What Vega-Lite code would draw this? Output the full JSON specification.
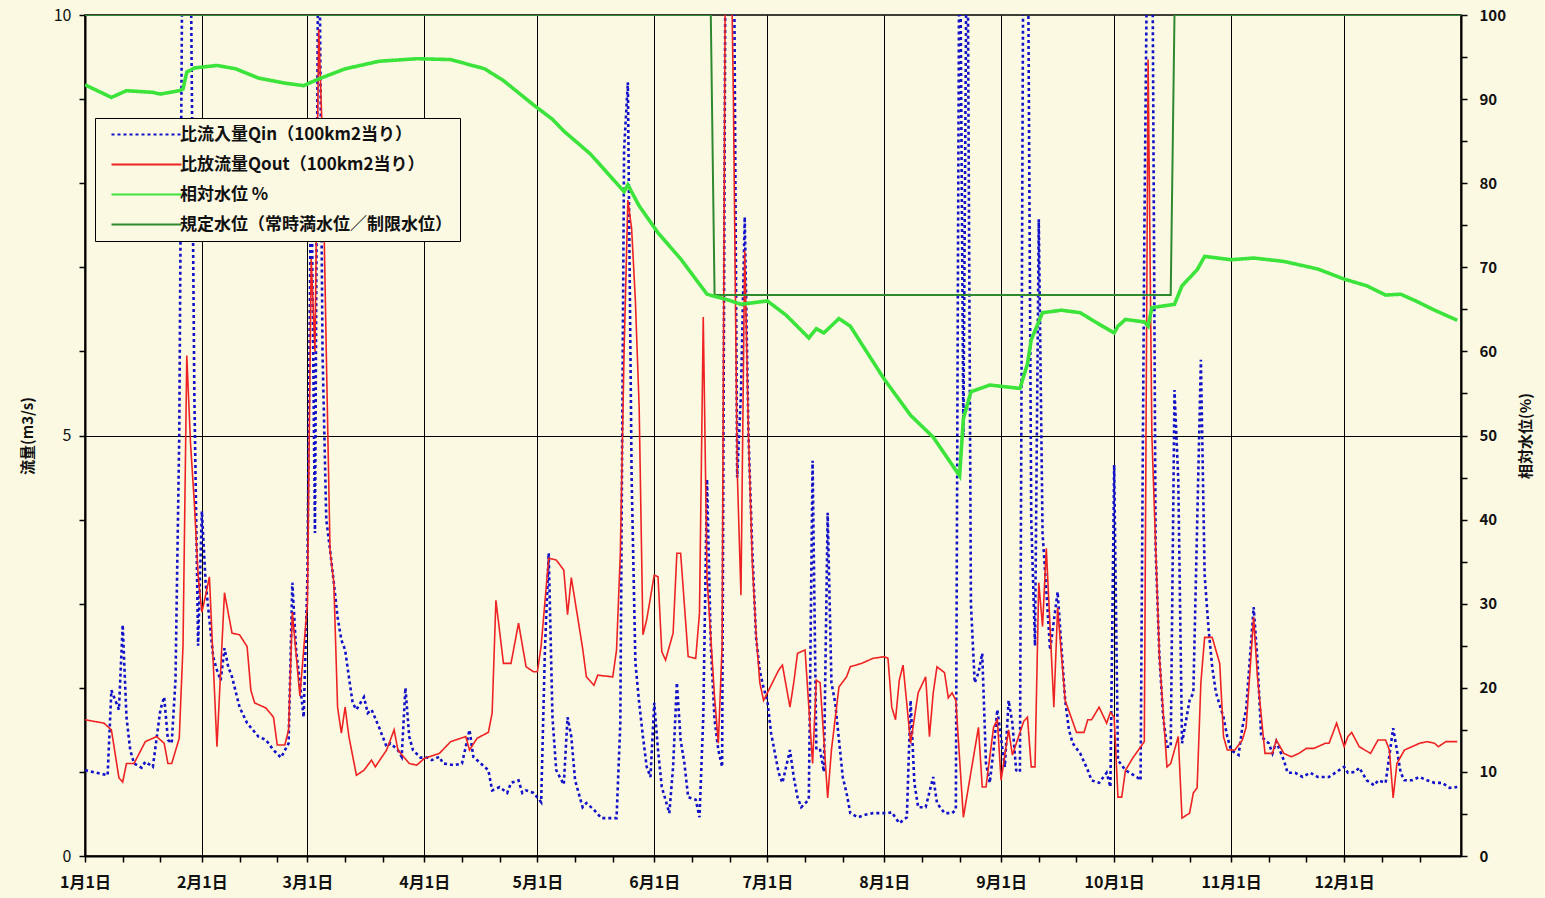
{
  "$schema": "https://vega.github.io/schema/vega-lite/v6.json",
  "width": 1376,
  "height": 841,
  "autosize": {"type": "none"},
  "padding": {"left": 85, "top": 15, "right": 84, "bottom": 42},
  "background": "#FCF9E3",
  "config": {
    "font": "Noto Sans CJK JP",
    "view": {"stroke": "black", "strokeWidth": 1.5, "fill": "#FCF9E3"},
    "axis": {"domainColor": "black", "domainWidth": 2, "tickColor": "black", "tickWidth": 1.5, "labelColor": "#111", "titleColor": "#111", "labelFontWeight": "bold", "titleFontWeight": "bold"}
  },
  "datasets": {
    "qin": [
      {"d":"2019/01/01","v":1.02,"s":"a"},{"d":"2019/01/04","v":0.99,"s":"a"},{"d":"2019/01/07","v":0.96,"s":"a"},{"d":"2019/01/08","v":1.97,"s":"a"},{"d":"2019/01/10","v":1.74,"s":"a"},{"d":"2019/01/11","v":2.75,"s":"a"},{"d":"2019/01/12","v":1.65,"s":"a"},{"d":"2019/01/13","v":1.26,"s":"a"},{"d":"2019/01/14","v":1.10,"s":"a"},{"d":"2019/01/16","v":1.05,"s":"a"},{"d":"2019/01/17","v":1.12,"s":"a"},{"d":"2019/01/19","v":1.06,"s":"a"},{"d":"2019/01/21","v":1.74,"s":"a"},{"d":"2019/01/22","v":1.89,"s":"a"},{"d":"2019/01/23","v":1.38,"s":"a"},{"d":"2019/01/24","v":1.34,"s":"a"},{"d":"2019/01/25","v":2.09,"s":"a"},{"d":"2019/01/26","v":5.0,"s":"a"},{"d":"2019/01/27","v":12,"s":"a"},{"d":"2019/01/28","v":12,"s":"a"},{"d":"2019/01/29","v":11,"s":"a"},{"d":"2019/01/30","v":5.5,"s":"a"},{"d":"2019/01/31","v":2.5,"s":"a"},
      {"d":"2019/02/01","v":4.10,"s":"a"},{"d":"2019/02/02","v":3.25,"s":"a"},{"d":"2019/02/04","v":2.37,"s":"a"},{"d":"2019/02/05","v":2.21,"s":"a"},{"d":"2019/02/06","v":2.09,"s":"a"},{"d":"2019/02/07","v":2.47,"s":"a"},{"d":"2019/02/08","v":2.25,"s":"a"},{"d":"2019/02/09","v":2.13,"s":"a"},{"d":"2019/02/11","v":1.77,"s":"a"},{"d":"2019/02/13","v":1.58,"s":"a"},{"d":"2019/02/16","v":1.42,"s":"a"},{"d":"2019/02/18","v":1.38,"s":"a"},{"d":"2019/02/20","v":1.26,"s":"a"},{"d":"2019/02/22","v":1.17,"s":"a"},{"d":"2019/02/24","v":1.34,"s":"a"},{"d":"2019/02/25","v":3.25,"s":"a"},{"d":"2019/02/26","v":2.45,"s":"a"},{"d":"2019/02/27","v":2.06,"s":"a"},{"d":"2019/02/28","v":1.65,"s":"a"},
      {"d":"2019/03/01","v":3.32,"s":"a"},{"d":"2019/03/02","v":8.4,"s":"a"},{"d":"2019/03/03","v":3.84,"s":"a"},{"d":"2019/03/04","v":12,"s":"a"},{"d":"2019/03/05","v":6.0,"s":"a"},{"d":"2019/03/06","v":4.0,"s":"a"},{"d":"2019/03/07","v":3.64,"s":"a"},{"d":"2019/03/08","v":3.25,"s":"a"},{"d":"2019/03/09","v":2.84,"s":"a"},{"d":"2019/03/10","v":2.57,"s":"a"},{"d":"2019/03/11","v":2.45,"s":"a"},{"d":"2019/03/12","v":2.13,"s":"a"},{"d":"2019/03/13","v":1.82,"s":"a"},{"d":"2019/03/14","v":1.74,"s":"a"},{"d":"2019/03/16","v":1.89,"s":"a"},{"d":"2019/03/17","v":1.70,"s":"a"},{"d":"2019/03/18","v":1.74,"s":"a"},{"d":"2019/03/20","v":1.53,"s":"a"},{"d":"2019/03/22","v":1.30,"s":"a"},{"d":"2019/03/23","v":1.34,"s":"a"},{"d":"2019/03/25","v":1.26,"s":"a"},{"d":"2019/03/26","v":1.18,"s":"a"},{"d":"2019/03/27","v":2.00,"s":"a"},{"d":"2019/03/28","v":1.42,"s":"a"},{"d":"2019/03/29","v":1.26,"s":"a"},{"d":"2019/03/31","v":1.17,"s":"a"},
      {"d":"2019/04/02","v":1.17,"s":"a"},{"d":"2019/04/03","v":1.14,"s":"a"},{"d":"2019/04/05","v":1.18,"s":"a"},{"d":"2019/04/06","v":1.10,"s":"a"},{"d":"2019/04/09","v":1.08,"s":"a"},{"d":"2019/04/11","v":1.10,"s":"a"},{"d":"2019/04/13","v":1.50,"s":"a"},{"d":"2019/04/14","v":1.18,"s":"a"},{"d":"2019/04/16","v":1.10,"s":"a"},{"d":"2019/04/18","v":1.02,"s":"a"},{"d":"2019/04/19","v":0.78,"s":"a"},{"d":"2019/04/21","v":0.82,"s":"a"},{"d":"2019/04/23","v":0.75,"s":"a"},{"d":"2019/04/24","v":0.87,"s":"a"},{"d":"2019/04/26","v":0.90,"s":"a"},{"d":"2019/04/27","v":0.75,"s":"a"},{"d":"2019/04/28","v":0.78,"s":"a"},{"d":"2019/04/30","v":0.75,"s":"a"},
      {"d":"2019/05/02","v":0.64,"s":"a"},{"d":"2019/05/03","v":2.45,"s":"a"},{"d":"2019/05/04","v":3.6,"s":"a"},{"d":"2019/05/05","v":1.65,"s":"a"},{"d":"2019/05/06","v":1.02,"s":"a"},{"d":"2019/05/08","v":0.85,"s":"a"},{"d":"2019/05/09","v":1.65,"s":"a"},{"d":"2019/05/10","v":1.42,"s":"a"},{"d":"2019/05/11","v":0.90,"s":"a"},{"d":"2019/05/13","v":0.58,"s":"a"},{"d":"2019/05/14","v":0.63,"s":"a"},{"d":"2019/05/16","v":0.55,"s":"a"},{"d":"2019/05/18","v":0.45,"s":"a"},{"d":"2019/05/22","v":0.45,"s":"a"},{"d":"2019/05/23","v":1.58,"s":"a"},{"d":"2019/05/24","v":8.4,"s":"a"},{"d":"2019/05/25","v":9.2,"s":"a"},{"d":"2019/05/26","v":4.5,"s":"a"},{"d":"2019/05/27","v":2.3,"s":"a"},{"d":"2019/05/28","v":1.82,"s":"a"},{"d":"2019/05/29","v":1.42,"s":"a"},{"d":"2019/05/30","v":1.06,"s":"a"},{"d":"2019/05/31","v":0.94,"s":"a"},
      {"d":"2019/06/01","v":1.82,"s":"a"},{"d":"2019/06/02","v":1.26,"s":"a"},{"d":"2019/06/03","v":0.82,"s":"a"},{"d":"2019/06/05","v":0.51,"s":"a"},{"d":"2019/06/06","v":1.06,"s":"a"},{"d":"2019/06/07","v":2.06,"s":"a"},{"d":"2019/06/08","v":1.38,"s":"a"},{"d":"2019/06/09","v":1.10,"s":"a"},{"d":"2019/06/10","v":0.70,"s":"a"},{"d":"2019/06/12","v":0.67,"s":"a"},{"d":"2019/06/13","v":0.46,"s":"a"},{"d":"2019/06/14","v":1.65,"s":"a"},{"d":"2019/06/15","v":4.48,"s":"a"},{"d":"2019/06/16","v":2.5,"s":"a"},{"d":"2019/06/17","v":1.62,"s":"a"},{"d":"2019/06/18","v":1.26,"s":"a"},{"d":"2019/06/19","v":1.06,"s":"a"},{"d":"2019/06/20","v":12,"s":"a"},{"d":"2019/06/21","v":12,"s":"a"},{"d":"2019/06/22","v":12,"s":"a"},{"d":"2019/06/23","v":4.5,"s":"a"},{"d":"2019/06/24","v":5.5,"s":"a"},{"d":"2019/06/25","v":7.6,"s":"a"},{"d":"2019/06/26","v":5.0,"s":"a"},{"d":"2019/06/27","v":3.64,"s":"a"},{"d":"2019/06/28","v":2.6,"s":"a"},{"d":"2019/06/29","v":2.2,"s":"a"},{"d":"2019/06/30","v":2.0,"s":"a"},
      {"d":"2019/07/01","v":1.85,"s":"a"},{"d":"2019/07/02","v":1.46,"s":"a"},{"d":"2019/07/04","v":0.99,"s":"a"},{"d":"2019/07/05","v":0.87,"s":"a"},{"d":"2019/07/07","v":1.26,"s":"a"},{"d":"2019/07/08","v":0.94,"s":"a"},{"d":"2019/07/09","v":0.70,"s":"a"},{"d":"2019/07/10","v":0.58,"s":"a"},{"d":"2019/07/12","v":0.67,"s":"a"},{"d":"2019/07/13","v":4.70,"s":"a"},{"d":"2019/07/14","v":1.26,"s":"a"},{"d":"2019/07/15","v":1.26,"s":"a"},{"d":"2019/07/16","v":1.00,"s":"a"},{"d":"2019/07/17","v":4.08,"s":"a"},{"d":"2019/07/18","v":2.06,"s":"a"},{"d":"2019/07/19","v":1.82,"s":"a"},{"d":"2019/07/20","v":1.38,"s":"a"},{"d":"2019/07/21","v":0.94,"s":"a"},{"d":"2019/07/22","v":0.75,"s":"a"},{"d":"2019/07/23","v":0.51,"s":"a"},{"d":"2019/07/25","v":0.46,"s":"a"},{"d":"2019/07/27","v":0.49,"s":"a"},{"d":"2019/07/29","v":0.51,"s":"a"},{"d":"2019/07/31","v":0.51,"s":"a"},
      {"d":"2019/08/02","v":0.51,"s":"a"},{"d":"2019/08/03","v":0.52,"s":"a"},{"d":"2019/08/05","v":0.39,"s":"a"},{"d":"2019/08/07","v":0.46,"s":"a"},{"d":"2019/08/08","v":1.85,"s":"a"},{"d":"2019/08/09","v":0.87,"s":"a"},{"d":"2019/08/10","v":0.58,"s":"a"},{"d":"2019/08/12","v":0.58,"s":"a"},{"d":"2019/08/14","v":0.94,"s":"a"},{"d":"2019/08/15","v":0.63,"s":"a"},{"d":"2019/08/17","v":0.51,"s":"a"},{"d":"2019/08/19","v":0.51,"s":"a"},{"d":"2019/08/20","v":0.55,"s":"a"},{"d":"2019/08/21","v":12,"s":"a"},{"d":"2019/08/22","v":5.0,"s":"a"},{"d":"2019/08/23","v":12,"s":"a"},{"d":"2019/08/24","v":3.0,"s":"a"},{"d":"2019/08/25","v":2.06,"s":"a"},{"d":"2019/08/26","v":2.18,"s":"a"},{"d":"2019/08/27","v":2.41,"s":"a"},{"d":"2019/08/28","v":1.10,"s":"a"},{"d":"2019/08/29","v":0.87,"s":"a"},{"d":"2019/08/30","v":1.26,"s":"a"},{"d":"2019/08/31","v":1.74,"s":"a"},
      {"d":"2019/09/02","v":1.06,"s":"a"},{"d":"2019/09/03","v":1.85,"s":"a"},{"d":"2019/09/04","v":1.58,"s":"a"},{"d":"2019/09/05","v":1.02,"s":"a"},{"d":"2019/09/06","v":1.00,"s":"a"},{"d":"2019/09/07","v":12,"s":"a"},{"d":"2019/09/08","v":12,"s":"a"},{"d":"2019/09/09","v":4.0,"s":"a"},{"d":"2019/09/10","v":2.5,"s":"a"},{"d":"2019/09/11","v":7.57,"s":"a"},{"d":"2019/09/12","v":3.84,"s":"a"},{"d":"2019/09/13","v":3.16,"s":"a"},{"d":"2019/09/14","v":2.45,"s":"a"},{"d":"2019/09/16","v":3.14,"s":"a"},{"d":"2019/09/18","v":1.85,"s":"a"},{"d":"2019/09/19","v":1.50,"s":"a"},{"d":"2019/09/20","v":1.34,"s":"a"},{"d":"2019/09/22","v":1.22,"s":"a"},{"d":"2019/09/24","v":1.02,"s":"a"},{"d":"2019/09/25","v":0.90,"s":"a"},{"d":"2019/09/27","v":0.87,"s":"a"},{"d":"2019/09/29","v":0.99,"s":"a"},{"d":"2019/09/30","v":0.82,"s":"a"},
      {"d":"2019/10/01","v":4.65,"s":"a"},{"d":"2019/10/02","v":1.14,"s":"a"},{"d":"2019/10/04","v":1.02,"s":"a"},{"d":"2019/10/07","v":0.94,"s":"a"},{"d":"2019/10/08","v":0.90,"s":"a"},{"d":"2019/10/09","v":7.4,"s":"a"},{"d":"2019/10/10","v":12,"s":"a"},{"d":"2019/10/11","v":12,"s":"a"},{"d":"2019/10/12","v":3.64,"s":"a"},{"d":"2019/10/13","v":2.37,"s":"a"},{"d":"2019/10/14","v":1.65,"s":"a"},{"d":"2019/10/15","v":1.30,"s":"a"},{"d":"2019/10/16","v":1.30,"s":"a"},{"d":"2019/10/17","v":5.54,"s":"a"},{"d":"2019/10/18","v":4.48,"s":"a"},{"d":"2019/10/19","v":1.34,"s":"a"},{"d":"2019/10/21","v":1.85,"s":"a"},{"d":"2019/10/22","v":1.94,"s":"a"},{"d":"2019/10/24","v":5.90,"s":"a"},{"d":"2019/10/25","v":3.34,"s":"a"},{"d":"2019/10/26","v":2.72,"s":"a"},{"d":"2019/10/27","v":2.25,"s":"a"},{"d":"2019/10/28","v":1.94,"s":"a"},{"d":"2019/10/30","v":1.65,"s":"a"},{"d":"2019/10/31","v":1.42,"s":"a"},
      {"d":"2019/11/01","v":1.26,"s":"a"},{"d":"2019/11/03","v":1.20,"s":"a"},{"d":"2019/11/04","v":1.53,"s":"a"},{"d":"2019/11/05","v":1.74,"s":"a"},{"d":"2019/11/07","v":2.96,"s":"a"},{"d":"2019/11/08","v":2.33,"s":"a"},{"d":"2019/11/09","v":1.42,"s":"a"},{"d":"2019/11/11","v":1.34,"s":"a"},{"d":"2019/11/12","v":1.22,"s":"a"},{"d":"2019/11/13","v":1.36,"s":"a"},{"d":"2019/11/15","v":1.14,"s":"a"},{"d":"2019/11/16","v":0.99,"s":"a"},{"d":"2019/11/18","v":0.99,"s":"a"},{"d":"2019/11/20","v":0.94,"s":"a"},{"d":"2019/11/22","v":0.99,"s":"a"},{"d":"2019/11/24","v":0.94,"s":"a"},{"d":"2019/11/27","v":0.94,"s":"a"},{"d":"2019/11/29","v":1.00,"s":"a"},
      {"d":"2019/12/01","v":1.06,"s":"a"},{"d":"2019/12/02","v":0.99,"s":"a"},{"d":"2019/12/04","v":1.00,"s":"a"},{"d":"2019/12/05","v":1.05,"s":"a"},{"d":"2019/12/07","v":0.90,"s":"a"},{"d":"2019/12/09","v":0.84,"s":"a"},{"d":"2019/12/10","v":0.90,"s":"a"},{"d":"2019/12/12","v":0.87,"s":"a"},{"d":"2019/12/14","v":1.52,"s":"a"},{"d":"2019/12/15","v":1.26,"s":"a"},{"d":"2019/12/16","v":0.99,"s":"a"},{"d":"2019/12/17","v":0.90,"s":"a"},{"d":"2019/12/19","v":0.90,"s":"a"},{"d":"2019/12/21","v":0.94,"s":"a"},{"d":"2019/12/23","v":0.90,"s":"a"},{"d":"2019/12/25","v":0.87,"s":"a"},{"d":"2019/12/27","v":0.87,"s":"a"},{"d":"2019/12/29","v":0.81,"s":"a"},{"d":"2019/12/31","v":0.82,"s":"a"}
    ],
    "qout": [
      {"d":"2019/01/01","v":1.62,"s":"b"},{"d":"2019/01/06","v":1.58,"s":"b"},{"d":"2019/01/08","v":1.50,"s":"b"},{"d":"2019/01/10","v":0.93,"s":"b"},{"d":"2019/01/11","v":0.88,"s":"b"},{"d":"2019/01/12","v":1.10,"s":"b"},{"d":"2019/01/14","v":1.10,"s":"b"},{"d":"2019/01/17","v":1.36,"s":"b"},{"d":"2019/01/20","v":1.42,"s":"b"},{"d":"2019/01/22","v":1.34,"s":"b"},{"d":"2019/01/23","v":1.10,"s":"b"},{"d":"2019/01/24","v":1.10,"s":"b"},{"d":"2019/01/26","v":1.40,"s":"b"},{"d":"2019/01/27","v":2.5,"s":"b"},{"d":"2019/01/28","v":5.95,"s":"b"},{"d":"2019/01/29","v":4.9,"s":"b"},{"d":"2019/01/30","v":4.2,"s":"b"},{"d":"2019/01/31","v":3.34,"s":"b"},
      {"d":"2019/02/01","v":2.90,"s":"b"},{"d":"2019/02/02","v":3.10,"s":"b"},{"d":"2019/02/03","v":3.32,"s":"b"},{"d":"2019/02/05","v":1.30,"s":"b"},{"d":"2019/02/07","v":3.13,"s":"b"},{"d":"2019/02/09","v":2.65,"s":"b"},{"d":"2019/02/11","v":2.63,"s":"b"},{"d":"2019/02/13","v":2.49,"s":"b"},{"d":"2019/02/14","v":1.97,"s":"b"},{"d":"2019/02/15","v":1.82,"s":"b"},{"d":"2019/02/18","v":1.76,"s":"b"},{"d":"2019/02/20","v":1.65,"s":"b"},{"d":"2019/02/21","v":1.32,"s":"b"},{"d":"2019/02/23","v":1.32,"s":"b"},{"d":"2019/02/24","v":1.50,"s":"b"},{"d":"2019/02/25","v":2.90,"s":"b"},{"d":"2019/02/27","v":1.90,"s":"b"},
      {"d":"2019/03/01","v":3.0,"s":"b"},{"d":"2019/03/02","v":7.1,"s":"b"},{"d":"2019/03/03","v":6.0,"s":"b"},{"d":"2019/03/04","v":9.83,"s":"b"},{"d":"2019/03/05","v":8.5,"s":"b"},{"d":"2019/03/06","v":6.0,"s":"b"},{"d":"2019/03/07","v":3.63,"s":"b"},{"d":"2019/03/08","v":3.25,"s":"b"},{"d":"2019/03/09","v":1.77,"s":"b"},{"d":"2019/03/10","v":1.46,"s":"b"},{"d":"2019/03/11","v":1.77,"s":"b"},{"d":"2019/03/12","v":1.42,"s":"b"},{"d":"2019/03/14","v":0.96,"s":"b"},{"d":"2019/03/16","v":1.02,"s":"b"},{"d":"2019/03/18","v":1.14,"s":"b"},{"d":"2019/03/19","v":1.06,"s":"b"},{"d":"2019/03/22","v":1.26,"s":"b"},{"d":"2019/03/24","v":1.50,"s":"b"},{"d":"2019/03/25","v":1.26,"s":"b"},{"d":"2019/03/28","v":1.10,"s":"b"},{"d":"2019/03/30","v":1.08,"s":"b"},
      {"d":"2019/04/01","v":1.16,"s":"b"},{"d":"2019/04/05","v":1.22,"s":"b"},{"d":"2019/04/08","v":1.36,"s":"b"},{"d":"2019/04/12","v":1.42,"s":"b"},{"d":"2019/04/13","v":1.26,"s":"b"},{"d":"2019/04/15","v":1.40,"s":"b"},{"d":"2019/04/18","v":1.47,"s":"b"},{"d":"2019/04/19","v":1.70,"s":"b"},{"d":"2019/04/20","v":3.04,"s":"b"},{"d":"2019/04/22","v":2.29,"s":"b"},{"d":"2019/04/24","v":2.29,"s":"b"},{"d":"2019/04/26","v":2.77,"s":"b"},{"d":"2019/04/28","v":2.25,"s":"b"},{"d":"2019/04/30","v":2.19,"s":"b"},
      {"d":"2019/05/01","v":2.19,"s":"b"},{"d":"2019/05/02","v":2.5,"s":"b"},{"d":"2019/05/04","v":3.54,"s":"b"},{"d":"2019/05/06","v":3.52,"s":"b"},{"d":"2019/05/08","v":3.40,"s":"b"},{"d":"2019/05/09","v":2.87,"s":"b"},{"d":"2019/05/10","v":3.31,"s":"b"},{"d":"2019/05/13","v":2.47,"s":"b"},{"d":"2019/05/14","v":2.13,"s":"b"},{"d":"2019/05/16","v":2.03,"s":"b"},{"d":"2019/05/17","v":2.15,"s":"b"},{"d":"2019/05/21","v":2.13,"s":"b"},{"d":"2019/05/22","v":2.45,"s":"b"},{"d":"2019/05/23","v":3.6,"s":"b"},{"d":"2019/05/24","v":6.0,"s":"b"},{"d":"2019/05/25","v":7.8,"s":"b"},{"d":"2019/05/26","v":7.46,"s":"b"},{"d":"2019/05/27","v":6.6,"s":"b"},{"d":"2019/05/28","v":5.33,"s":"b"},{"d":"2019/05/29","v":2.63,"s":"b"},{"d":"2019/05/30","v":2.81,"s":"b"},
      {"d":"2019/06/01","v":3.34,"s":"b"},{"d":"2019/06/02","v":3.32,"s":"b"},{"d":"2019/06/03","v":2.43,"s":"b"},{"d":"2019/06/04","v":2.33,"s":"b"},{"d":"2019/06/06","v":2.65,"s":"b"},{"d":"2019/06/07","v":3.60,"s":"b"},{"d":"2019/06/08","v":3.60,"s":"b"},{"d":"2019/06/10","v":2.37,"s":"b"},{"d":"2019/06/12","v":2.35,"s":"b"},{"d":"2019/06/13","v":2.89,"s":"b"},{"d":"2019/06/14","v":6.41,"s":"b"},{"d":"2019/06/15","v":3.3,"s":"b"},{"d":"2019/06/17","v":1.89,"s":"b"},{"d":"2019/06/18","v":1.34,"s":"b"},{"d":"2019/06/19","v":2.5,"s":"b"},{"d":"2019/06/20","v":12,"s":"b"},{"d":"2019/06/21","v":12,"s":"b"},{"d":"2019/06/22","v":9.0,"s":"b"},{"d":"2019/06/23","v":4.6,"s":"b"},{"d":"2019/06/24","v":3.1,"s":"b"},{"d":"2019/06/25","v":7.2,"s":"b"},{"d":"2019/06/26","v":5.0,"s":"b"},{"d":"2019/06/27","v":3.5,"s":"b"},{"d":"2019/06/28","v":2.65,"s":"b"},{"d":"2019/06/29","v":2.06,"s":"b"},{"d":"2019/06/30","v":1.85,"s":"b"},
      {"d":"2019/07/01","v":1.94,"s":"b"},{"d":"2019/07/03","v":2.12,"s":"b"},{"d":"2019/07/04","v":2.21,"s":"b"},{"d":"2019/07/05","v":2.27,"s":"b"},{"d":"2019/07/07","v":1.77,"s":"b"},{"d":"2019/07/08","v":2.06,"s":"b"},{"d":"2019/07/09","v":2.41,"s":"b"},{"d":"2019/07/11","v":2.45,"s":"b"},{"d":"2019/07/13","v":1.10,"s":"b"},{"d":"2019/07/14","v":2.09,"s":"b"},{"d":"2019/07/15","v":2.06,"s":"b"},{"d":"2019/07/17","v":0.69,"s":"b"},{"d":"2019/07/18","v":1.26,"s":"b"},{"d":"2019/07/20","v":2.01,"s":"b"},{"d":"2019/07/22","v":2.13,"s":"b"},{"d":"2019/07/23","v":2.25,"s":"b"},{"d":"2019/07/26","v":2.29,"s":"b"},{"d":"2019/07/29","v":2.35,"s":"b"},
      {"d":"2019/08/01","v":2.37,"s":"b"},{"d":"2019/08/02","v":2.35,"s":"b"},{"d":"2019/08/03","v":1.77,"s":"b"},{"d":"2019/08/04","v":1.62,"s":"b"},{"d":"2019/08/05","v":2.09,"s":"b"},{"d":"2019/08/06","v":2.27,"s":"b"},{"d":"2019/08/08","v":1.34,"s":"b"},{"d":"2019/08/10","v":1.94,"s":"b"},{"d":"2019/08/12","v":2.13,"s":"b"},{"d":"2019/08/13","v":1.42,"s":"b"},{"d":"2019/08/14","v":1.94,"s":"b"},{"d":"2019/08/15","v":2.25,"s":"b"},{"d":"2019/08/17","v":2.18,"s":"b"},{"d":"2019/08/18","v":1.88,"s":"b"},{"d":"2019/08/19","v":1.94,"s":"b"},{"d":"2019/08/20","v":1.85,"s":"b"},{"d":"2019/08/22","v":0.46,"s":"b"},{"d":"2019/08/26","v":1.53,"s":"b"},{"d":"2019/08/27","v":0.82,"s":"b"},{"d":"2019/08/28","v":0.82,"s":"b"},{"d":"2019/08/30","v":1.53,"s":"b"},{"d":"2019/08/31","v":1.62,"s":"b"},
      {"d":"2019/09/01","v":0.90,"s":"b"},{"d":"2019/09/03","v":1.50,"s":"b"},{"d":"2019/09/04","v":1.20,"s":"b"},{"d":"2019/09/07","v":1.60,"s":"b"},{"d":"2019/09/08","v":1.65,"s":"b"},{"d":"2019/09/09","v":1.06,"s":"b"},{"d":"2019/09/10","v":1.06,"s":"b"},{"d":"2019/09/11","v":3.25,"s":"b"},{"d":"2019/09/12","v":2.73,"s":"b"},{"d":"2019/09/13","v":3.66,"s":"b"},{"d":"2019/09/15","v":1.77,"s":"b"},{"d":"2019/09/16","v":2.95,"s":"b"},{"d":"2019/09/18","v":1.85,"s":"b"},{"d":"2019/09/21","v":1.47,"s":"b"},{"d":"2019/09/23","v":1.47,"s":"b"},{"d":"2019/09/24","v":1.62,"s":"b"},{"d":"2019/09/25","v":1.62,"s":"b"},{"d":"2019/09/27","v":1.77,"s":"b"},{"d":"2019/09/29","v":1.58,"s":"b"},{"d":"2019/09/30","v":1.71,"s":"b"},
      {"d":"2019/10/01","v":1.65,"s":"b"},{"d":"2019/10/02","v":0.70,"s":"b"},{"d":"2019/10/03","v":0.70,"s":"b"},{"d":"2019/10/04","v":1.02,"s":"b"},{"d":"2019/10/06","v":1.17,"s":"b"},{"d":"2019/10/09","v":1.36,"s":"b"},{"d":"2019/10/10","v":9.47,"s":"b"},{"d":"2019/10/11","v":5.0,"s":"b"},{"d":"2019/10/13","v":2.37,"s":"b"},{"d":"2019/10/15","v":1.06,"s":"b"},{"d":"2019/10/16","v":1.10,"s":"b"},{"d":"2019/10/18","v":1.42,"s":"b"},{"d":"2019/10/19","v":0.45,"s":"b"},{"d":"2019/10/21","v":0.51,"s":"b"},{"d":"2019/10/22","v":0.75,"s":"b"},{"d":"2019/10/23","v":0.81,"s":"b"},{"d":"2019/10/24","v":2.06,"s":"b"},{"d":"2019/10/25","v":2.60,"s":"b"},{"d":"2019/10/27","v":2.60,"s":"b"},{"d":"2019/10/29","v":2.29,"s":"b"},{"d":"2019/10/30","v":1.42,"s":"b"},{"d":"2019/10/31","v":1.26,"s":"b"},
      {"d":"2019/11/02","v":1.26,"s":"b"},{"d":"2019/11/04","v":1.38,"s":"b"},{"d":"2019/11/05","v":1.53,"s":"b"},{"d":"2019/11/07","v":2.84,"s":"b"},{"d":"2019/11/08","v":2.13,"s":"b"},{"d":"2019/11/10","v":1.22,"s":"b"},{"d":"2019/11/12","v":1.22,"s":"b"},{"d":"2019/11/13","v":1.38,"s":"b"},{"d":"2019/11/15","v":1.22,"s":"b"},{"d":"2019/11/17","v":1.18,"s":"b"},{"d":"2019/11/19","v":1.22,"s":"b"},{"d":"2019/11/21","v":1.28,"s":"b"},{"d":"2019/11/23","v":1.28,"s":"b"},{"d":"2019/11/26","v":1.34,"s":"b"},{"d":"2019/11/27","v":1.34,"s":"b"},{"d":"2019/11/29","v":1.58,"s":"b"},
      {"d":"2019/12/01","v":1.30,"s":"b"},{"d":"2019/12/02","v":1.42,"s":"b"},{"d":"2019/12/03","v":1.47,"s":"b"},{"d":"2019/12/05","v":1.30,"s":"b"},{"d":"2019/12/08","v":1.22,"s":"b"},{"d":"2019/12/10","v":1.38,"s":"b"},{"d":"2019/12/12","v":1.38,"s":"b"},{"d":"2019/12/13","v":1.26,"s":"b"},{"d":"2019/12/14","v":0.69,"s":"b"},{"d":"2019/12/15","v":1.10,"s":"b"},{"d":"2019/12/17","v":1.26,"s":"b"},{"d":"2019/12/19","v":1.30,"s":"b"},{"d":"2019/12/21","v":1.34,"s":"b"},{"d":"2019/12/23","v":1.36,"s":"b"},{"d":"2019/12/25","v":1.34,"s":"b"},{"d":"2019/12/26","v":1.30,"s":"b"},{"d":"2019/12/28","v":1.36,"s":"b"},{"d":"2019/12/31","v":1.36,"s":"b"}
    ],
    "level": [
      {"d":"2019/01/01","v":91.7,"s":"c"},{"d":"2019/01/08","v":90.2,"s":"c"},{"d":"2019/01/12","v":91.0,"s":"c"},{"d":"2019/01/19","v":90.8,"s":"c"},{"d":"2019/01/21","v":90.6,"s":"c"},{"d":"2019/01/26","v":91.0,"s":"c"},{"d":"2019/01/27","v":91.2,"s":"c"},{"d":"2019/01/28","v":93.2,"s":"c"},{"d":"2019/01/30","v":93.7,"s":"c"},{"d":"2019/02/05","v":94.0,"s":"c"},{"d":"2019/02/10","v":93.6,"s":"c"},{"d":"2019/02/16","v":92.5,"s":"c"},{"d":"2019/02/23","v":91.9,"s":"c"},{"d":"2019/02/28","v":91.6,"s":"c"},{"d":"2019/03/04","v":92.4,"s":"c"},{"d":"2019/03/11","v":93.6,"s":"c"},{"d":"2019/03/20","v":94.5,"s":"c"},{"d":"2019/03/30","v":94.8,"s":"c"},{"d":"2019/04/08","v":94.7,"s":"c"},{"d":"2019/04/17","v":93.6,"s":"c"},{"d":"2019/04/22","v":92.2,"s":"c"},{"d":"2019/04/30","v":89.3,"s":"c"},{"d":"2019/05/05","v":87.6,"s":"c"},{"d":"2019/05/08","v":86.2,"s":"c"},{"d":"2019/05/15","v":83.5,"s":"c"},{"d":"2019/05/24","v":79.0,"s":"c"},{"d":"2019/05/25","v":79.8,"s":"c"},{"d":"2019/05/28","v":77.3,"s":"c"},{"d":"2019/06/02","v":74.1,"s":"c"},{"d":"2019/06/08","v":71.0,"s":"c"},{"d":"2019/06/15","v":66.8,"s":"c"},{"d":"2019/06/20","v":66.2,"s":"c"},{"d":"2019/06/24","v":65.6,"s":"c"},{"d":"2019/07/01","v":66.0,"s":"c"},{"d":"2019/07/06","v":64.3,"s":"c"},{"d":"2019/07/12","v":61.6,"s":"c"},{"d":"2019/07/14","v":62.7,"s":"c"},{"d":"2019/07/16","v":62.2,"s":"c"},{"d":"2019/07/20","v":63.9,"s":"c"},{"d":"2019/07/23","v":63.0,"s":"c"},{"d":"2019/08/01","v":56.7,"s":"c"},{"d":"2019/08/08","v":52.4,"s":"c"},{"d":"2019/08/14","v":49.8,"s":"c"},{"d":"2019/08/21","v":45.2,"s":"c"},{"d":"2019/08/22","v":52.0,"s":"c"},{"d":"2019/08/24","v":55.2,"s":"c"},{"d":"2019/08/29","v":56.0,"s":"c"},{"d":"2019/09/06","v":55.6,"s":"c"},{"d":"2019/09/08","v":58.5,"s":"c"},{"d":"2019/09/09","v":61.4,"s":"c"},{"d":"2019/09/12","v":64.6,"s":"c"},{"d":"2019/09/17","v":64.9,"s":"c"},{"d":"2019/09/22","v":64.6,"s":"c"},{"d":"2019/09/26","v":63.5,"s":"c"},{"d":"2019/10/01","v":62.2,"s":"c"},{"d":"2019/10/02","v":63.0,"s":"c"},{"d":"2019/10/04","v":63.8,"s":"c"},{"d":"2019/10/09","v":63.5,"s":"c"},{"d":"2019/10/10","v":63.0,"s":"c"},{"d":"2019/10/11","v":65.2,"s":"c"},{"d":"2019/10/17","v":65.6,"s":"c"},{"d":"2019/10/19","v":67.8,"s":"c"},{"d":"2019/10/23","v":69.7,"s":"c"},{"d":"2019/10/25","v":71.3,"s":"c"},{"d":"2019/11/01","v":70.9,"s":"c"},{"d":"2019/11/07","v":71.1,"s":"c"},{"d":"2019/11/15","v":70.7,"s":"c"},{"d":"2019/11/24","v":69.8,"s":"c"},{"d":"2019/12/01","v":68.6,"s":"c"},{"d":"2019/12/07","v":67.8,"s":"c"},{"d":"2019/12/12","v":66.7,"s":"c"},{"d":"2019/12/16","v":66.8,"s":"c"},{"d":"2019/12/20","v":66.0,"s":"c"},{"d":"2019/12/25","v":64.9,"s":"c"},{"d":"2019/12/31","v":63.7,"s":"c"}
    ],
    "rule": [
      {"d":"2019/01/01","v":100,"s":"d"},{"d":"2019/06/16","v":100,"s":"d"},{"d":"2019/06/17","v":66.7,"s":"d"},{"d":"2019/10/16","v":66.7,"s":"d"},{"d":"2019/10/17","v":100,"s":"d"},{"d":"2020/01/01","v":100,"s":"d"}
    ]
  },
  "layer": [
    {
      "layer": [
        {
          "data": {"name": "qin"},
          "mark": {"type": "line", "clip": true, "strokeWidth": 2.6},
          "encoding": {
            "x": {"field": "d", "type": "temporal",
              "scale": {"domain": [{"year": 2019, "month": 1, "date": 1}, {"year": 2020, "month": 1, "date": 1}]},
              "axis": {
                "title": null,
                "tickCount": 100,
                "values": [
                  {"year":2019,"month":1,"date":1},{"year":2019,"month":1,"date":11},{"year":2019,"month":1,"date":21},
                  {"year":2019,"month":2,"date":1},{"year":2019,"month":2,"date":11},{"year":2019,"month":2,"date":21},
                  {"year":2019,"month":3,"date":1},{"year":2019,"month":3,"date":11},{"year":2019,"month":3,"date":21},
                  {"year":2019,"month":4,"date":1},{"year":2019,"month":4,"date":11},{"year":2019,"month":4,"date":21},
                  {"year":2019,"month":5,"date":1},{"year":2019,"month":5,"date":11},{"year":2019,"month":5,"date":21},
                  {"year":2019,"month":6,"date":1},{"year":2019,"month":6,"date":11},{"year":2019,"month":6,"date":21},
                  {"year":2019,"month":7,"date":1},{"year":2019,"month":7,"date":11},{"year":2019,"month":7,"date":21},
                  {"year":2019,"month":8,"date":1},{"year":2019,"month":8,"date":11},{"year":2019,"month":8,"date":21},
                  {"year":2019,"month":9,"date":1},{"year":2019,"month":9,"date":11},{"year":2019,"month":9,"date":21},
                  {"year":2019,"month":10,"date":1},{"year":2019,"month":10,"date":11},{"year":2019,"month":10,"date":21},
                  {"year":2019,"month":11,"date":1},{"year":2019,"month":11,"date":11},{"year":2019,"month":11,"date":21},
                  {"year":2019,"month":12,"date":1},{"year":2019,"month":12,"date":11},{"year":2019,"month":12,"date":21}
                ],
                "labelExpr": "date(datum.value) === 1 ? timeFormat(datum.value, '%-m月%-d日') : ''",
                "labelFontSize": 16,
                "labelPadding": 12,
                "labelFlush": false,
                "labelOverlap": false,
                "tickSize": 6,
                "grid": true,
                "gridColor": "black",
                "gridWidth": 1,
                "gridOpacity": {"condition": {"test": "date(datum.value) === 1", "value": 1}, "value": 0}
              }
            },
            "y": {"field": "v", "type": "quantitative",
              "scale": {"domain": [0, 10], "nice": false},
              "axis": {
                "title": "流量(m3/s)",
                "titleFontSize": 15,
                "titlePadding": 18,
                "tickCount": 100,
                "values": [0,1,2,3,4,5,6,7,8,9,10],
                "format": "d",
                "labelExpr": "datum.value % 5 === 0 ? datum.label : ''",
                "labelFontSize": 16,
                "labelFontWeight": "normal",
                "labelPadding": 8,
                "tickSize": 6,
                "grid": true,
                "gridColor": "black",
                "gridWidth": 1,
                "gridOpacity": {"condition": {"test": "datum.value === 5", "value": 1}, "value": 0}
              }
            },
            "color": {"field": "s", "type": "nominal",
              "scale": {"domain": ["a", "b", "c", "d"], "range": ["#1212C8", "#EE2222", "#3BE33B", "#2F8A2F"]},
              "legend": {
                "orient": "none", "legendX": 10, "legendY": 103, "title": null,
                "direction": "vertical",
                "symbolType": "M-5,0H5", "symbolSize": 196, "symbolStrokeWidth": 2.2, "symbolOffset": 35,
                "labelFontSize": 17, "labelFontWeight": "bold", "labelColor": "#111", "labelLimit": 0, "labelOffset": 25,
                "rowPadding": 12, "padding": 8,
                "strokeColor": "black", "fillColor": "#FCF9E3",
                "labelExpr": "datum.label === 'a' ? '比流入量Qin（100km2当り）' : datum.label === 'b' ? '比放流量Qout（100km2当り）' : datum.label === 'c' ? '相対水位 %' : '規定水位（常時満水位／制限水位）'"
              }
            },
            "strokeDash": {"field": "s", "type": "nominal",
              "scale": {"domain": ["a", "b", "c", "d"], "range": [[3, 3], [1, 0], [1, 0], [1, 0]]},
              "legend": {
                "orient": "none", "legendX": 10, "legendY": 103, "title": null,
                "direction": "vertical",
                "symbolType": "M-5,0H5", "symbolSize": 196, "symbolStrokeWidth": 2.2, "symbolOffset": 35,
                "labelFontSize": 17, "labelFontWeight": "bold", "labelColor": "#111", "labelLimit": 0, "labelOffset": 25,
                "rowPadding": 12, "padding": 8,
                "strokeColor": "black", "fillColor": "#FCF9E3",
                "labelExpr": "datum.label === 'a' ? '比流入量Qin（100km2当り）' : datum.label === 'b' ? '比放流量Qout（100km2当り）' : datum.label === 'c' ? '相対水位 %' : '規定水位（常時満水位／制限水位）'"
              }
            }
          }
        },
        {
          "data": {"name": "qout"},
          "mark": {"type": "line", "clip": true, "strokeWidth": 1.6},
          "encoding": {
            "x": {"field": "d", "type": "temporal"},
            "y": {"field": "v", "type": "quantitative"},
            "color": {"field": "s", "type": "nominal"},
            "strokeDash": {"field": "s", "type": "nominal"}
          }
        }
      ]
    },
    {
      "layer": [
        {
          "data": {"name": "rule"},
          "mark": {"type": "line", "clip": true, "strokeWidth": 2},
          "encoding": {
            "x": {"field": "d", "type": "temporal"},
            "y": {"field": "v", "type": "quantitative",
              "scale": {"domain": [0, 100], "nice": false},
              "axis": {
                "orient": "right",
                "title": "相対水位(%)",
                "titleFontSize": 15,
                "titleAngle": 270,
                "titlePadding": 28,
                "tickCount": 100,
                "values": [0,5,10,15,20,25,30,35,40,45,50,55,60,65,70,75,80,85,90,95,100],
                "labelExpr": "datum.value % 10 === 0 ? datum.label : ''",
                "labelFontSize": 15,
                "labelPadding": 12,
                "tickSize": 6,
                "grid": false
              }
            },
            "color": {"field": "s", "type": "nominal"},
            "strokeDash": {"field": "s", "type": "nominal"}
          }
        },
        {
          "data": {"name": "level"},
          "mark": {"type": "line", "clip": true, "strokeWidth": 3.6},
          "encoding": {
            "x": {"field": "d", "type": "temporal"},
            "y": {"field": "v", "type": "quantitative"},
            "color": {"field": "s", "type": "nominal"},
            "strokeDash": {"field": "s", "type": "nominal"}
          }
        }
      ]
    }
  ],
  "resolve": {"scale": {"y": "independent"}, "axis": {"y": "independent"}}
}
